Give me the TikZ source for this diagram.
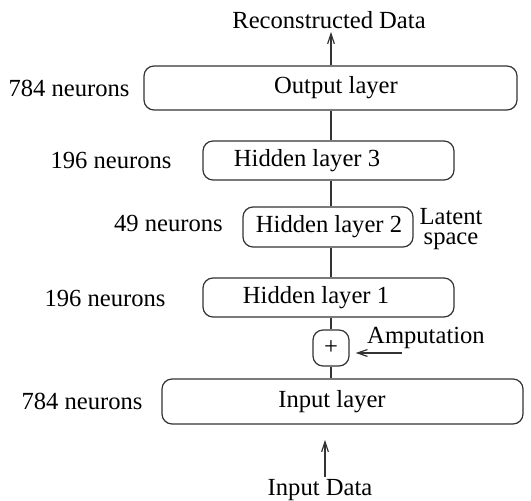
\documentclass[tikz,border=0pt]{standalone}
\usepackage{fontspec}
\setmainfont{Liberation Serif}
\newfontfamily\layerfont{Liberation Serif}
\usetikzlibrary{positioning,arrows.meta}

\begin{document}
\begin{tikzpicture}[
  x=0.5pt, y=-0.5pt,
  font=\layerfont\fontsize{12.3}{14.8}\selectfont,
  >={Straight Barb[length=5pt,width=3.4pt]},
  line width=0.6pt,
  layer/.style={draw=black!80, rounded corners=5pt, inner sep=0pt},
  sizetext/.style={inner sep=1pt},
  link/.style={draw=black!80},
  flow/.style={->, draw=black!80}
]
  \useasboundingbox (0,0) rectangle (531,501);
  \node[layer, minimum width=186.5pt, minimum height=22pt,
        label={[xshift=2.75pt]center:Output layer}] (outl) at (330.5,88) {};
  \node[layer, minimum width=125.5pt, minimum height=19.5pt,
        label={[xshift=-10.75pt]center:Hidden layer 3}] (hid3) at (328.5,160.5) {};
  \node[layer, minimum width=85pt, minimum height=20pt,
        label={[xshift=0.5pt]center:Hidden layer 2}] (hid2) at (328,227) {};
  \node[layer, minimum width=125.5pt, minimum height=19.5pt,
        label={[xshift=-6.25pt]center:Hidden layer 1}] (hid1) at (328.5,297.5) {};
  \node[layer, minimum width=18pt, minimum height=18pt] (plus) at (331,348) {+};
  \node[layer, minimum width=180.5pt, minimum height=22.5pt,
        label={[xshift=-5.25pt]center:Input layer}] (inl) at (342.5,401.5) {};
  % neuron counts
  \node[sizetext] (n784o) at (69,88) {784 neurons};
  \node[sizetext] (n196b) at (111,160) {196 neurons};
  \node[sizetext] (n49) at (168.5,223) {49 neurons};
  \node[sizetext] (n196a) at (105,298) {196 neurons};
  \node[sizetext] (n784i) at (82,401) {784 neurons};
  \node[sizetext, align=center, font=\layerfont\fontsize{12.3}{9.6}\selectfont] (latent) at (451,229) {Latent\\space};
  % data in and out
  \node[sizetext] (recon) at (329,20) {Reconstructed Data};
  \node[sizetext] (indata) at (320,490) {Input Data};
  \node[sizetext] (amput) at (426,338) {Amputation};
  \coordinate (ampin) at (402,353);
  \coordinate (intip) at (325,440);
  \draw[flow] (outl.north -| 331,0) -- (331,32);
  \draw[link] (outl.south -| 331,0) -- (hid3.north -| 331,0);
  \draw[link] (hid3.south -| 331,0) -- (hid2.north -| 331,0);
  \draw[link] (hid2.south -| 331,0) -- (hid1.north -| 331,0);
  \draw[link] (hid1.south -| plus.north) -- (plus.north);
  \draw[link] (plus.south) -- (inl.north -| plus.south);
  \draw[flow, shorten >=3pt] (ampin) -- (ampin -| plus.east);
  \draw[flow] (intip |- indata.north) -- (intip);
\end{tikzpicture}
\end{document}
